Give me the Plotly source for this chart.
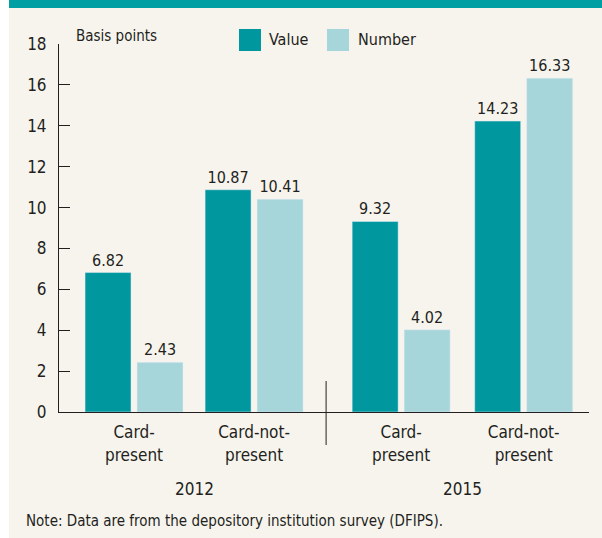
import plotly.graph_objects as go

categories = ["Card-<br>present", "Card-not-<br>present", "Card-<br>present", "Card-not-<br>present"]
positions = [0, 1, 2.225, 3.246]
years = ["2012", "2015"]
year_positions = [0.5, 2.735]
value_bp = [6.82, 10.87, 9.32, 14.23]
number_bp = [2.43, 10.41, 4.02, 16.33]
y_ticks = [0, 2, 4, 6, 8, 10, 12, 14, 16, 18]

TEAL = "#00979e"
LIGHT = "#a6d5da"
BG = "#f7f4ee"
INK = "#231f20"
FONT = "Liberation Sans Narrow, DejaVu Sans Condensed, Arial Narrow, sans-serif"

W, H = 602, 538
L, R, T, B = 59, 589, 44, 412


def px(x):
    return (x - L) / (R - L)


def py(y):
    return (B - y) / (B - T)


fig = go.Figure()
fig.add_trace(go.Bar(x=positions, y=value_bp, name="Value", marker_color=TEAL,
                     width=0.383, offset=-0.408,
                     text=[f"{v:.2f}" for v in value_bp], textposition="outside",
                     textfont=dict(size=16, color=INK, family=FONT), cliponaxis=False))
fig.add_trace(go.Bar(x=positions, y=number_bp, name="Number", marker_color=LIGHT,
                     width=0.383, offset=0.025,
                     text=[f"{v:.2f}" for v in number_bp], textposition="outside",
                     textfont=dict(size=16, color=INK, family=FONT), cliponaxis=False))

shapes = [
    dict(type="rect", xref="paper", yref="paper", x0=px(9), x1=px(W), y0=py(H), y1=py(0),
         fillcolor=BG, line_width=0, layer="below"),
    dict(type="rect", xref="paper", yref="paper", x0=px(9), x1=px(W), y0=py(8), y1=py(0),
         fillcolor="#009fa4", line_width=0, layer="below"),
    dict(type="line", xref="x", yref="paper", x0=1.6, x1=1.6, y0=py(381), y1=py(445),
         line=dict(color=INK, width=1)),
    dict(type="rect", xref="paper", yref="paper", x0=px(239), x1=px(261), y0=py(51), y1=py(29),
         fillcolor=TEAL, line_width=0),
    dict(type="rect", xref="paper", yref="paper", x0=px(327), x1=px(349), y0=py(51), y1=py(29),
         fillcolor=LIGHT, line_width=0),
]

annotations = [
    dict(text="Value", x=px(267), y=py(40), xref="paper", yref="paper", xanchor="left",
         yanchor="middle", showarrow=False, font=dict(size=16, color=INK, family=FONT)),
    dict(text="Number", x=px(356), y=py(40), xref="paper", yref="paper", xanchor="left",
         yanchor="middle", showarrow=False, font=dict(size=16, color=INK, family=FONT)),
    dict(text="Basis points", x=px(74), y=py(36), xref="paper", yref="paper", xanchor="left",
         yanchor="middle", showarrow=False, font=dict(size=15, color=INK, family=FONT)),
    dict(text="Note: Data are from the depository institution survey (DFIPS).", x=px(24), y=py(521),
         xref="paper", yref="paper", xanchor="left", yanchor="middle", showarrow=False,
         font=dict(size=15, color=INK, family=FONT)),
]
for yr, xp in zip(years, year_positions):
    annotations.append(dict(text=yr, x=xp, y=py(489), xref="x", yref="paper", xanchor="center",
                            yanchor="middle", showarrow=False,
                            font=dict(size=17, color=INK, family=FONT)))

fig.update_layout(
    width=W, height=H,
    margin=dict(l=L, r=W - R, t=T, b=H - B, pad=0),
    paper_bgcolor="white", plot_bgcolor="rgba(0,0,0,0)",
    showlegend=False, barmode="overlay",
    font=dict(family=FONT, color=INK),
    shapes=shapes, annotations=annotations,
    xaxis=dict(range=[-0.625, 3.79], tickvals=positions, ticktext=categories,
               showline=True, linecolor=INK, linewidth=1, ticks="", showgrid=False,
               zeroline=False, tickfont=dict(size=17, color=INK, family=FONT),
               ticklabelstandoff=5),
    yaxis=dict(range=[0, 18], tickvals=y_ticks, showline=True, linecolor=INK, linewidth=1,
               ticks="inside", ticklen=11, tickcolor=INK, showgrid=False, zeroline=False,
               tickfont=dict(size=17, color=INK, family=FONT), ticklabelstandoff=8),
)

fig.write_html("out.html", config={"displayModeBar": False},
               post_script="document.body.style.margin='0';document.body.style.overflow='hidden';")
